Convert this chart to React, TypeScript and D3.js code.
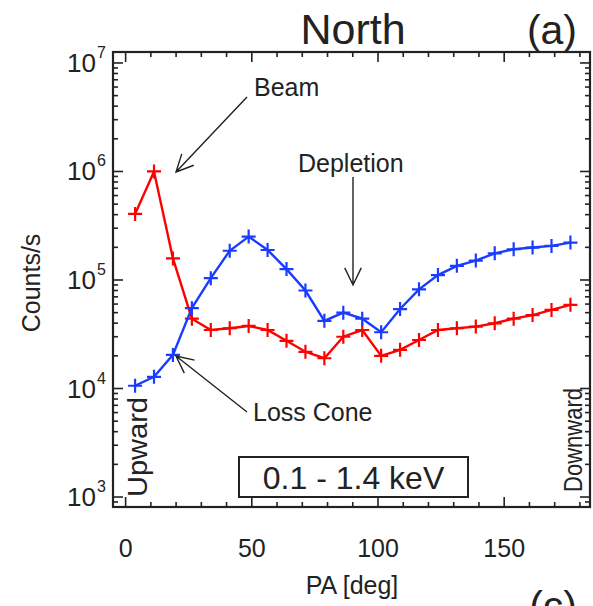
import React from "react";
import * as d3 from "d3";

const pitchAngles = [3.75, 11.25, 18.75, 26.25, 33.75, 41.25, 48.75, 56.25, 63.75, 71.25, 78.75, 86.25, 93.75, 101.25, 108.75, 116.25, 123.75, 131.25, 138.75, 146.25, 153.75, 161.25, 168.75, 176.25];
const redCounts = [4.06e5, 1.0e6, 1.58e5, 4.4e4, 3.46e4, 3.59e4, 3.77e4, 3.46e4, 2.75e4, 2.18e4, 1.9e4, 3.0e4, 3.46e4, 2.0e4, 2.27e4, 2.8e4, 3.46e4, 3.59e4, 3.72e4, 3.99e4, 4.4e4, 4.75e4, 5.3e4, 5.9e4];
const blueCounts = [1.06e4, 1.28e4, 2.04e4, 5.5e4, 1.04e5, 1.86e5, 2.51e5, 1.89e5, 1.26e5, 8.0e4, 4.2e4, 5.0e4, 4.4e4, 3.3e4, 5.4e4, 8.2e4, 1.11e5, 1.35e5, 1.51e5, 1.76e5, 1.92e5, 1.99e5, 2.06e5, 2.21e5];
const xMajorTicks = [0, 50, 100, 150];
const xMinorTicks = [10, 20, 30, 40, 60, 70, 80, 90, 110, 120, 130, 140, 160, 170, 180];
const yExponents = [3, 4, 5, 6, 7];

const W = 593, H = 606;
const L = 113, R = 590, T = 52, B = 507;
const FONT = "'Liberation Sans', Arial, Helvetica, sans-serif";
const INK = "#222";

export default function App() {
  const x = d3.scaleLinear().domain([-5, 184]).range([L, R]);
  const y = d3.scaleLog().domain([Math.pow(10, 2.908), Math.pow(10, 7.101)]).range([B, T]);
  const line = d3.line<number>().x((_, i) => x(pitchAngles[i])).y((d) => y(d));

  const yMinor: number[] = [];
  for (let e = 2; e <= 7; e++) for (let m = 2; m <= 9; m++) {
    const v = m * Math.pow(10, e);
    const py = y(v);
    if (py > T + 1 && py < B - 1) yMinor.push(v);
  }

  const plus = (cx: number, cy: number, color: string, key: string) => (
    <path key={key} d={`M${cx - 7},${cy}H${cx + 7}M${cx},${cy - 7}V${cy + 7}`} stroke={color} strokeWidth={2.2} />
  );

  const arrow = (x1: number, y1: number, x2: number, y2: number) => {
    const ang = Math.atan2(y2 - y1, x2 - x1);
    const len = 19, spread = 0.45;
    const a1 = ang + Math.PI - spread, a2 = ang + Math.PI + spread;
    return (
      <path
        d={`M${x1},${y1}L${x2},${y2}M${x2 + len * Math.cos(a1)},${y2 + len * Math.sin(a1)}L${x2},${y2}L${x2 + len * Math.cos(a2)},${y2 + len * Math.sin(a2)}`}
        stroke={INK} strokeWidth={1.4} fill="none"
      />
    );
  };

  return (
    <svg width={W} height={H} style={{ position: "absolute", left: 0, top: 0, background: "#fff" }} fontFamily={FONT}>
      <rect width={W} height={H} fill="#fff" />
      {/* title */}
      <text x={353} y={44} textAnchor="middle" fontSize={43} fill={INK}>North</text>
      <text x={577} y={44} textAnchor="end" fontSize={41} fill={INK}>(a)</text>

      {/* ticks */}
      {xMajorTicks.map((t) => (
        <g key={"xm" + t}>
          <line x1={x(t)} x2={x(t)} y1={B} y2={B - 10} stroke={INK} strokeWidth={1.6} />
          <line x1={x(t)} x2={x(t)} y1={T} y2={T + 10} stroke={INK} strokeWidth={1.6} />
          <text x={x(t)} y={557} textAnchor="middle" fontSize={25} fill={INK}>{t}</text>
        </g>
      ))}
      {xMinorTicks.map((t) => (
        <g key={"xn" + t}>
          <line x1={x(t)} x2={x(t)} y1={B} y2={B - 5} stroke={INK} strokeWidth={1.6} />
          <line x1={x(t)} x2={x(t)} y1={T} y2={T + 5} stroke={INK} strokeWidth={1.6} />
        </g>
      ))}
      {yExponents.map((e) => {
        const py = y(Math.pow(10, e));
        return (
          <g key={"ym" + e}>
            <line x1={L} x2={L + 10} y1={py} y2={py} stroke={INK} strokeWidth={1.6} />
            <line x1={R} x2={R - 10} y1={py} y2={py} stroke={INK} strokeWidth={1.6} />
            <text x={96} y={py + 9} textAnchor="end" fontSize={26} fill={INK}>10</text>
            <text x={97} y={py - 5} textAnchor="start" fontSize={16} fill={INK}>{e}</text>
          </g>
        );
      })}
      {yMinor.map((v) => (
        <g key={"yn" + v}>
          <line x1={L} x2={L + 5} y1={y(v)} y2={y(v)} stroke={INK} strokeWidth={1.6} />
          <line x1={R} x2={R - 5} y1={y(v)} y2={y(v)} stroke={INK} strokeWidth={1.6} />
        </g>
      ))}

      {/* data */}
      <path d={line(redCounts) || ""} fill="none" stroke="#ff0000" strokeWidth={2.4} />
      {redCounts.map((v, i) => plus(x(pitchAngles[i]), y(v), "#ff0000", "r" + i))}
      <path d={line(blueCounts) || ""} fill="none" stroke="#1a3cff" strokeWidth={2.4} />
      {blueCounts.map((v, i) => plus(x(pitchAngles[i]), y(v), "#1a3cff", "b" + i))}

      {/* frame */}
      <rect x={L} y={T} width={R - L} height={B - T} fill="none" stroke={INK} strokeWidth={2.2} />

      {/* annotations */}
      <text x={254} y={96} fontSize={25} fill={INK}>Beam</text>
      {arrow(247, 97, 176, 172)}
      <text x={298} y={172} fontSize={25} fill={INK}>Depletion</text>
      {arrow(353, 177, 353, 285)}
      <text x={253} y={421} fontSize={25} fill={INK}>Loss Cone</text>
      {arrow(247, 412, 176, 356)}

      <rect x={239} y={457} width={229} height={40} fill="#fff" stroke={INK} strokeWidth={2} />
      <text x={353.5} y={489} textAnchor="middle" fontSize={32} fill={INK}>0.1 - 1.4 keV</text>

      <text transform="translate(147,497) rotate(-90)" fontSize={27} fill={INK} textLength={100} lengthAdjust="spacingAndGlyphs">Upward</text>
      <text transform="translate(582,492) rotate(-90)" fontSize={25} fill={INK} textLength={104} lengthAdjust="spacingAndGlyphs">Downward</text>

      {/* axis labels */}
      <text transform="translate(40,283) rotate(-90)" textAnchor="middle" fontSize={25} fill={INK}>Counts/s</text>
      <text x={352} y={594} textAnchor="middle" fontSize={25} fill={INK}>PA [deg]</text>
      <text x={577} y={620} textAnchor="end" fontSize={41} fill={INK}>(c)</text>
    </svg>
  );
}
